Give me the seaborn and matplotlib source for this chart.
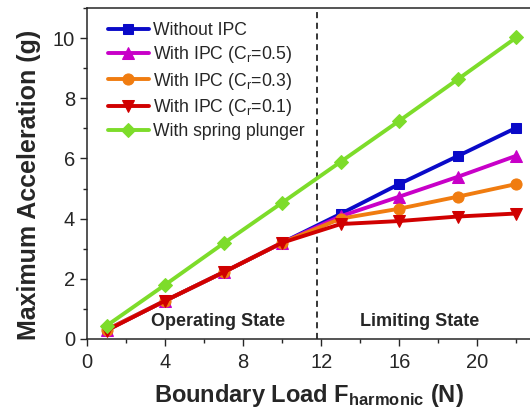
import numpy as np
import pandas as pd
import matplotlib
matplotlib.use('Agg')
import matplotlib.pyplot as plt
import seaborn as sns
from matplotlib.ticker import MultipleLocator

# values
load = [1, 4, 7, 10, 13, 16, 19, 22]
without_ipc = [0.30, 1.27, 2.22, 3.20, 4.16, 5.15, 6.08, 7.02]
ipc_05 = [0.30, 1.27, 2.22, 3.20, 4.08, 4.73, 5.39, 6.09]
ipc_03 = [0.30, 1.27, 2.22, 3.20, 4.00, 4.33, 4.73, 5.15]
ipc_01 = [0.28, 1.27, 2.22, 3.20, 3.82, 3.92, 4.07, 4.17]
spring = [0.44, 1.80, 3.18, 4.53, 5.89, 7.25, 8.63, 10.02]

labels = ['Without IPC', 'With IPC (C$_r$=0.5)', 'With IPC (C$_r$=0.3)',
          'With IPC (C$_r$=0.1)', 'With spring plunger']
series = [without_ipc, ipc_05, ipc_03, ipc_01, spring]
colors = ['#0a0ac8', '#c800c8', '#f07c10', '#d00000', '#7ddc2a']
markers = ['s', '^', 'o', 'v', 'D']
msizes = [7.5, 8.5, 8, 8.5, 7.5]
boundary = 11.8

sns.set_style('ticks')
plt.rcParams['font.family'] = ['Liberation Sans', 'DejaVu Sans']
plt.rcParams['mathtext.fontset'] = 'custom'
plt.rcParams['mathtext.rm'] = 'Liberation Sans'
plt.rcParams['mathtext.it'] = 'Liberation Sans'
plt.rcParams['mathtext.bf'] = 'Liberation Sans:bold'

fig = plt.figure(figsize=(5.3, 4.18), dpi=100)
ax = fig.add_axes([87 / 530, 79 / 418, 443 / 530, 331 / 418])

df = pd.DataFrame({'load': load * len(series),
                   'acc': np.concatenate(series),
                   'case': np.repeat(labels, len(load))})

# spring plunger first so the IPC curves sit on top
order = [4, 0, 1, 2, 3]
for i in order:
    sub = df[df['case'] == labels[i]]
    sns.lineplot(data=sub, x='load', y='acc', ax=ax, color=colors[i],
                 marker=markers[i], markersize=msizes[i],
                 markeredgecolor=colors[i], linewidth=2.8, label=labels[i],
                 zorder=3 + i)

ax.axvline(boundary, color='black', linestyle=(0, (4, 3)), linewidth=1.1)

ax.set_xlim(0, 22.7)
ax.set_ylim(0, 11)
ax.xaxis.set_major_locator(MultipleLocator(4))
ax.xaxis.set_minor_locator(MultipleLocator(2))
ax.yaxis.set_major_locator(MultipleLocator(2))
ax.yaxis.set_minor_locator(MultipleLocator(1))
ax.tick_params(which='major', direction='out', length=5, width=1,
               labelsize=14.5)
ax.tick_params(axis='x', which='major', pad=5)
ax.tick_params(which='minor', direction='out', length=3, width=1)
for s in ['left', 'bottom', 'top']:
    ax.spines[s].set_linewidth(1.1)
ax.spines['right'].set_visible(False)

ax.set_xlabel(r'Boundary Load F$_{\mathbf{harmonic}}$ (N)', fontsize=17,
              fontweight='bold', labelpad=7)
ax.set_ylabel('Maximum Acceleration (g)', fontsize=18, fontweight='bold')
ax.yaxis.set_label_coords(-0.104, 0.465)

ax.text(6.7, 0.58, 'Operating State', ha='center', va='center',
        fontsize=13, fontweight='bold')
ax.text(17.05, 0.58, 'Limiting State', ha='center', va='center',
        fontsize=13, fontweight='bold')

handles, lbls = ax.get_legend_handles_labels()
pos = {l: k for k, l in enumerate(lbls)}
handles = [handles[pos[l]] for l in labels]
ax.legend(handles, labels, loc='upper left', frameon=False, fontsize=12.7,
          handlelength=2.3, handletextpad=0.25, labelspacing=0.3,
          borderaxespad=0.3, bbox_to_anchor=(0.02, 0.995))

fig.savefig('out.png', dpi=100)
